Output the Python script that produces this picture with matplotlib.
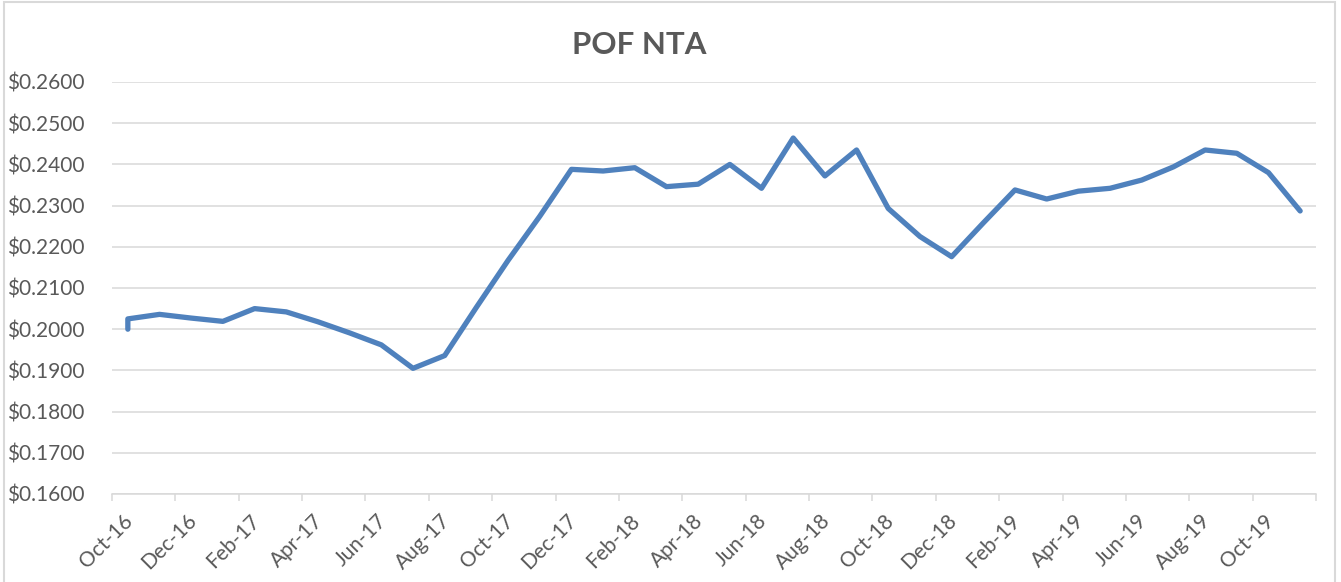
import matplotlib
matplotlib.use("Agg")
import matplotlib.pyplot as plt
import matplotlib.transforms as mtransforms
from matplotlib.patches import Rectangle
import pandas as pd

# NTA mensual (el primer mes tiene dos lecturas)
meses = ["2016-10", "2016-10", "2016-11", "2016-12", "2017-01", "2017-02", "2017-03",
         "2017-04", "2017-05", "2017-06", "2017-07", "2017-08", "2017-09", "2017-10",
         "2017-11", "2017-12", "2018-01", "2018-02", "2018-03", "2018-04", "2018-05",
         "2018-06", "2018-07", "2018-08", "2018-09", "2018-10", "2018-11", "2018-12",
         "2019-01", "2019-02", "2019-03", "2019-04", "2019-05", "2019-06", "2019-07",
         "2019-08", "2019-09", "2019-10", "2019-11"]
nta = [0.2000, 0.2025, 0.2036, 0.2027, 0.2019, 0.2050, 0.2042,
       0.2018, 0.1991, 0.1962, 0.1905, 0.1936, 0.2053, 0.2167,
       0.2274, 0.2388, 0.2384, 0.2392, 0.2346, 0.2352, 0.2400,
       0.2342, 0.2464, 0.2372, 0.2435, 0.2293, 0.2225, 0.2176,
       0.2258, 0.2338, 0.2316, 0.2335, 0.2342, 0.2362, 0.2394,
       0.2435, 0.2427, 0.2380, 0.2287]
etiquetas_x = ["Oct-16", "Dec-16", "Feb-17", "Apr-17", "Jun-17", "Aug-17", "Oct-17",
               "Dec-17", "Feb-18", "Apr-18", "Jun-18", "Aug-18", "Oct-18", "Dec-18",
               "Feb-19", "Apr-19", "Jun-19", "Aug-19", "Oct-19", ""]
valores_y = [0.16, 0.17, 0.18, 0.19, 0.20, 0.21, 0.22, 0.23, 0.24, 0.25, 0.26]

gris_texto = "#595959"
gris_linea = "#d9d9d9"
azul = "#4f81bd"

plt.rcParams['font.family'] = ['Lato', 'DejaVu Sans']

# posicion: centro del mes (eje de fechas con unidad base mensual)
inicio = pd.Period("2016-10", freq="M")
x = [(pd.Period(m, freq="M") - inicio).n + 0.5 for m in meses]

fig = plt.figure(figsize=(13.41, 5.82), dpi=100)
ax = fig.add_axes([112 / 1341, 1 - 494 / 582, (1316 - 112) / 1341, (494 - 82) / 582])

# borde del area del grafico
fig.patches.append(Rectangle((4 / 1341, -0.01), (1335 - 4) / 1341, 1.01 - 1.5 / 582,
                             transform=fig.transFigure, fill=False,
                             edgecolor=gris_linea, linewidth=1.5))

ax.plot(x, nta, color=azul, linewidth=3.8, solid_joinstyle="round",
        solid_capstyle="round", zorder=3)

ax.set_xlim(0, 38)
ax.set_ylim(0.16, 0.26)
ax.set_yticks(valores_y)
ax.set_yticklabels([f"${v:.4f}" for v in valores_y])
ax.set_xticks(range(0, 39, 2))
ax.set_xticklabels(etiquetas_x, rotation=45, ha="right", va="center",
                   rotation_mode="anchor")

ax.grid(axis="y", color=gris_linea, linewidth=1.1)
ax.set_axisbelow(True)
for lado in ["top", "right", "left"]:
    ax.spines[lado].set_visible(False)
ax.spines["bottom"].set_color(gris_linea)
ax.spines["bottom"].set_linewidth(1.1)

ax.tick_params(axis="y", length=0, pad=20, labelsize=15, labelcolor=gris_texto)
ax.tick_params(axis="x", length=5, width=1.1, color=gris_linea, pad=12,
               labelsize=15, labelcolor=gris_texto)

desplaza = mtransforms.ScaledTranslation(18 / 100, 0, fig.dpi_scale_trans)
for lbl in ax.get_xticklabels():
    lbl.set_transform(lbl.get_transform() + desplaza)

fig.text(639 / 1341, 1 - 45 / 582, "POF NTA", ha="center", va="center",
         fontsize=22.5, fontweight="bold", color=gris_texto)

fig.savefig("out.png", dpi=100)
